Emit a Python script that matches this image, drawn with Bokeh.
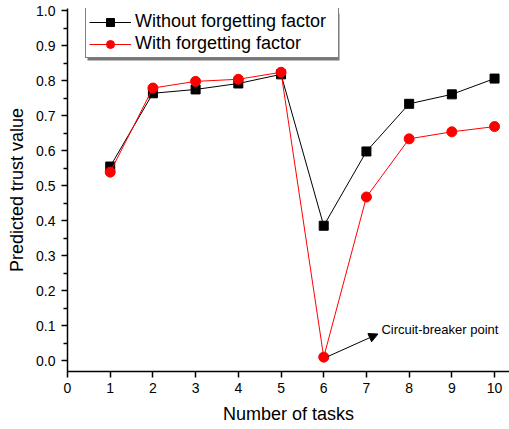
from bokeh.plotting import figure
from bokeh.models import (Range1d, FixedTicker, Arrow, NormalHead, Label, Legend,
                          LegendItem, NumeralTickFormatter, BoxAnnotation)
from bokeh.embed import file_html
from bokeh.resources import INLINE

# ---- data ----
tasks = [1, 2, 3, 4, 5, 6, 7, 8, 9, 10]
without_ff = [0.555, 0.764, 0.775, 0.792, 0.818, 0.386, 0.598, 0.734, 0.761, 0.806]
with_ff = [0.539, 0.779, 0.798, 0.804, 0.824, 0.011, 0.468, 0.634, 0.654, 0.669]
x_ticks = [0, 1, 2, 3, 4, 5, 6, 7, 8, 9, 10]
y_ticks = [0.0, 0.1, 0.2, 0.3, 0.4, 0.5, 0.6, 0.7, 0.8, 0.9, 1.0]
y_minor = [0.05, 0.15, 0.25, 0.35, 0.45, 0.55, 0.65, 0.75, 0.85, 0.95]
series_names = ["Without forgetting factor", "With forgetting factor"]
annotation_text = "Circuit-breaker point"
breaker_task = 6

FONT = "Liberation Sans"

p = figure(width=509, height=429, output_backend="svg", toolbar_location=None,
           x_range=Range1d(0, 10.35), y_range=Range1d(-0.03, 1.006),
           min_border_left=67, min_border_right=0, min_border_top=8, min_border_bottom=58)
p.outline_line_color = None
p.xgrid.visible = False
p.ygrid.visible = False
p.background_fill_color = "white"
p.border_fill_color = "white"

# axes styling
for ax in (p.xaxis[0], p.yaxis[0]):
    ax.axis_line_width = 1.5
    ax.axis_line_color = "black"
    ax.major_tick_line_width = 1.5
    ax.minor_tick_line_width = 1.5
    ax.major_tick_in = 0
    ax.major_tick_out = 6
    ax.minor_tick_in = 0
    ax.minor_tick_out = 4
    ax.major_label_text_font = FONT
    ax.major_label_text_font_size = "14px"
    ax.major_label_text_color = "black"
    ax.axis_label_text_font = FONT
    ax.axis_label_text_font_size = "18px"
    ax.axis_label_text_font_style = "normal"
    ax.axis_label_text_color = "black"

p.xaxis.ticker = FixedTicker(ticks=x_ticks, minor_ticks=[])
p.yaxis.ticker = FixedTicker(ticks=y_ticks, minor_ticks=y_minor)
p.yaxis.formatter = NumeralTickFormatter(format="0.0")
p.xaxis.axis_label = "Number of tasks"
p.yaxis.axis_label = "Predicted trust value"
p.xaxis.major_label_standoff = 5
p.xaxis.axis_label_standoff = 8
p.yaxis.major_label_standoff = 6
p.yaxis.axis_label_standoff = 6

# series
l1 = p.line(tasks, without_ff, line_color="black", line_width=1)
s1 = p.scatter(tasks, without_ff, marker="square", size=9, fill_color="black", line_color="black")
l2 = p.line(tasks, with_ff, line_color="#ff0000", line_width=1)
s2 = p.scatter(tasks, with_ff, marker="circle", size=10, fill_color="#ff0000", line_color="#ff0000")

# legend shadow (screen units relative to the frame, y from bottom), drawn before the legend
p.add_layout(BoxAnnotation(left=20, right=272, top=358, bottom=311,
                           left_units="screen", right_units="screen",
                           top_units="screen", bottom_units="screen",
                           fill_color="#777777", fill_alpha=1, line_color=None))

legend = Legend(items=[LegendItem(label=series_names[0], renderers=[l1, s1]),
                       LegendItem(label=series_names[1], renderers=[l2, s2])],
                location=(18, 313))
legend.label_text_font = FONT
legend.label_text_font_size = "18px"
legend.label_text_color = "black"
legend.glyph_width = 42
legend.glyph_height = 20
legend.label_height = 20
legend.label_width = 200
legend.label_standoff = 4
legend.padding = 3
legend.spacing = 1
legend.margin = 0
legend.border_line_color = "black"
legend.border_line_width = 1
legend.background_fill_color = "white"
legend.background_fill_alpha = 1
p.add_layout(legend)

# annotation
idx = tasks.index(breaker_task)
p.add_layout(Arrow(end=NormalHead(size=9, fill_color="black", line_color="black"),
                   x_start=tasks[idx] + 0.1, y_start=with_ff[idx] + 0.002,
                   x_end=tasks[idx] + 1.27, y_end=with_ff[idx] + 0.066,
                   line_color="black", line_width=1))
p.add_layout(Label(x=tasks[idx] + 1.35, y=with_ff[idx] + 0.08, text=annotation_text,
                   text_font=FONT, text_font_size="13px", text_color="black",
                   text_baseline="middle", text_align="left"))

open("out.html", "w").write(file_html(p, INLINE))
